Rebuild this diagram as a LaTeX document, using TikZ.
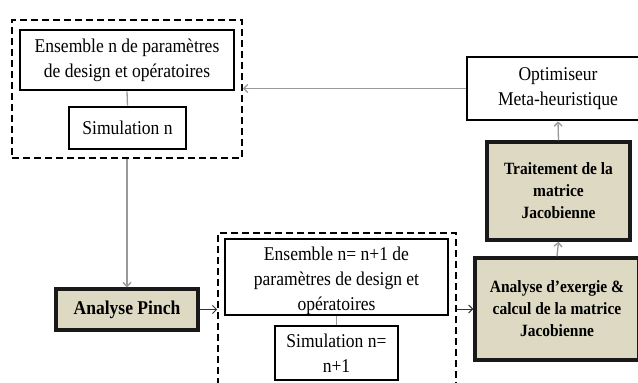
\documentclass[tikz,border=0pt]{standalone}
\usepackage{fontspec}
\setmainfont{Liberation Serif}[FakeStretch=0.9]
\usetikzlibrary{arrows.meta,shadows}
\definecolor{beige}{HTML}{DDD9C3}
\definecolor{conngray}{HTML}{999999}
\begin{document}
\begin{tikzpicture}[x=1pt,y=-1pt,
  box/.style={draw=black, line width=2.6pt, fill=white, inner sep=0pt, align=center, font=\fontsize{19.5}{25}\selectfont},
  bbox/.style={draw=black!90, line width=3.5pt, fill=beige, inner sep=0pt, align=center, font=\bfseries\fontsize{17.2}{22}\selectfont, drop shadow={shadow xshift=1.5pt,shadow yshift=-1.5pt,opacity=0.35}},
  grp/.style={draw=black, line width=1.8pt, dash pattern=on 7pt off 4pt, inner sep=0pt},
  conn/.style={draw=conngray, line width=1.3pt},
  blk/.style={draw=black!80, line width=0.9pt},
  arr/.style={-{Straight Barb[length=4pt,width=8pt]}},
]
\path[use as bounding box] (0,0) rectangle (638,383);
\clip (0,0) rectangle (638,383);

% group boxes
\node[grp, minimum width=230pt, minimum height=138pt] (g1) at (127,89) {};
\node[grp, minimum width=238pt, minimum height=160pt] (g2) at (337,313) {};

% top-left group
\node[box, minimum width=214pt, minimum height=60pt] (ens1) at (127,60)
  {Ensemble n de paramètres\\de design et opératoires};
\node[box, minimum width=117pt, minimum height=42pt] (sim1) at (127.5,128) {Simulation n};

% pinch
\node[bbox, font=\bfseries\fontsize{19.5}{25}\selectfont, minimum width=142pt, minimum height=41pt] (pinch) at (127,309.5) {Analyse Pinch};

% bottom group
\node[box, minimum width=223pt, minimum height=72pt] (ens2) at (336.5,277)
  {\rule{0pt}{22pt}Ensemble n= n+1 de\\paramètres de design et\\opératoires};
\node[box, minimum width=123pt, minimum height=54pt] (sim2) at (336.5,353) {Simulation n=\\n+1};

% right column
\node[bbox, minimum width=164pt, minimum height=102pt] (exer) at (557,309)
  {Analyse d’exergie \&\\calcul de la matrice\\Jacobienne};
\node[bbox, minimum width=143pt, minimum height=98pt] (trait) at (558.5,191)
  {Traitement de la\\matrice\\Jacobienne};
\node[box, minimum width=182pt, minimum height=63pt] (optim) at (558,88.5)
  {Optimiseur\\Meta-heuristique};

% connectors
\draw[conn] (ens1.south) -- (sim1.north);
\draw[conn] (ens2.south) -- (sim2.north);
\draw[conn,arr] (g1.south) -- (pinch.north);
\draw[blk,arr] (pinch.east) -- (pinch.east -| g2.west);
\draw[blk,arr] (g2.east |- exer.west) -- (exer.west);
\draw[conn,arr] (exer.north) -- (trait.south);
\draw[conn,arr] (trait.north) -- (optim.south);
\draw[conn,arr] (optim.west) -- (optim.west -| g1.east);
\end{tikzpicture}
\end{document}
